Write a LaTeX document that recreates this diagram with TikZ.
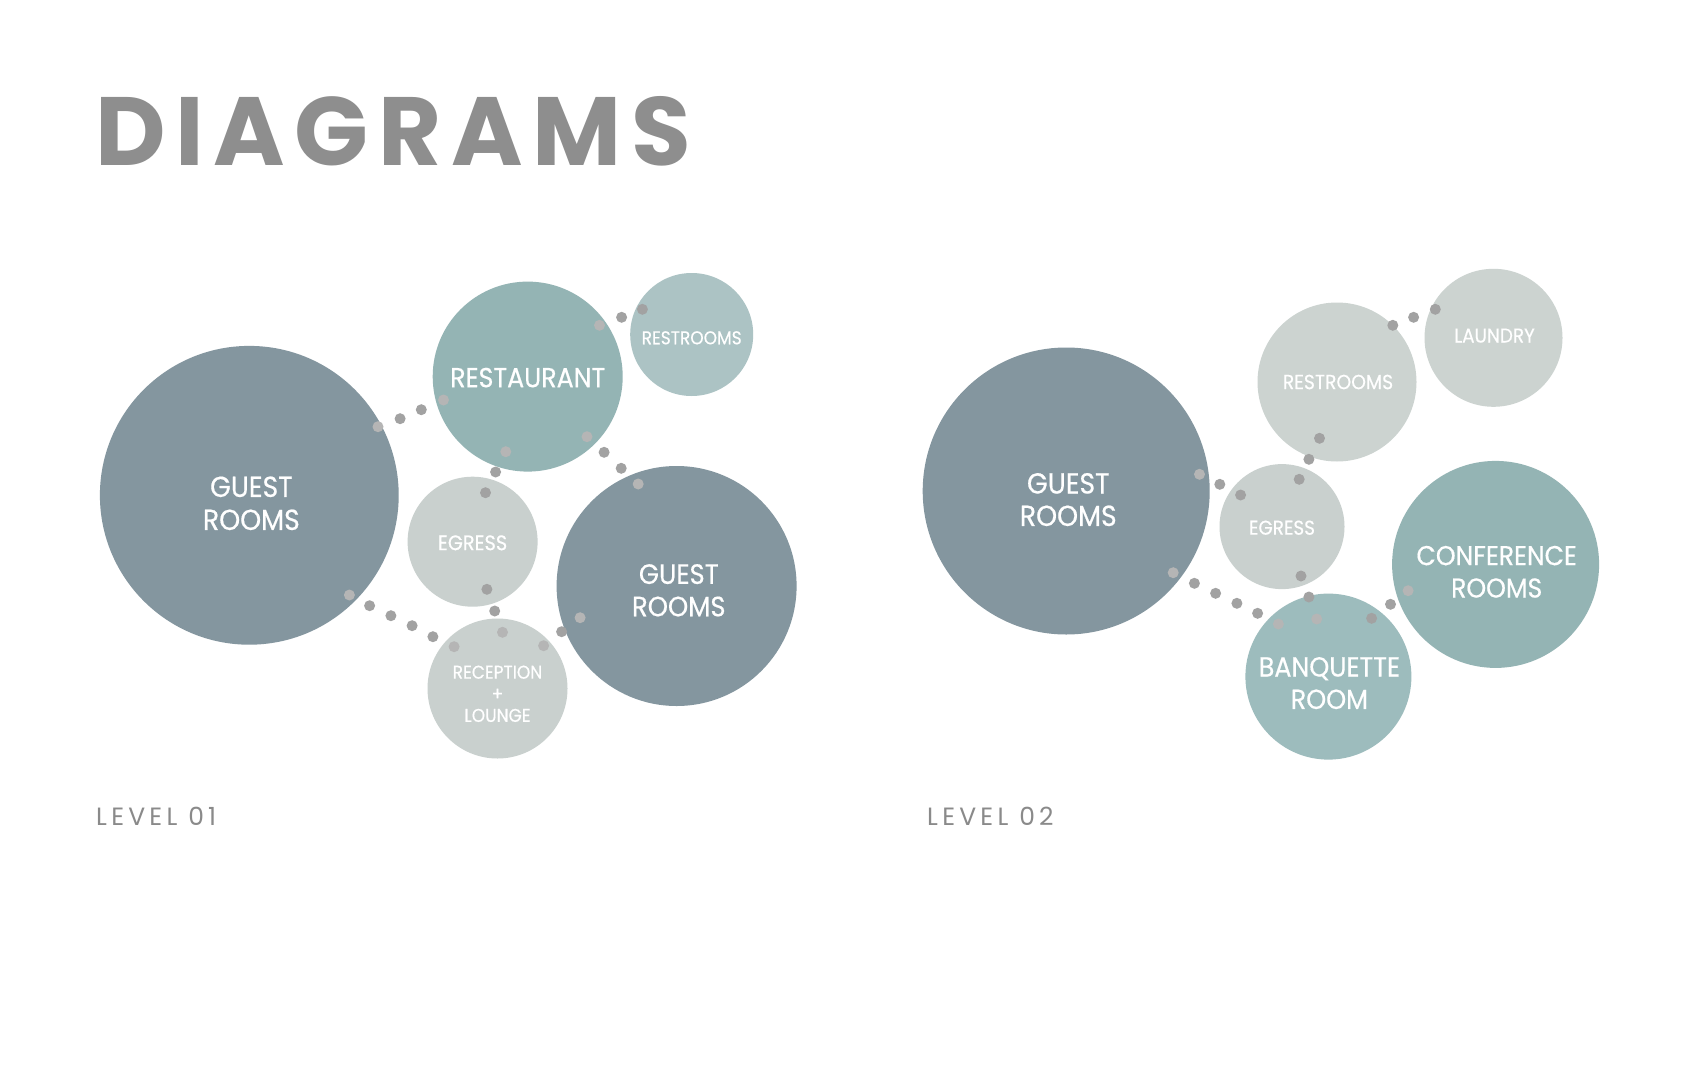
\documentclass[tikz,border=0pt]{standalone}
\usepackage{fontspec}
\setmainfont{Poppins}
\newfontfamily\labfont[FakeStretch=0.92,FakeBold=0.5]{Poppins}
\newfontfamily\titlefont[LetterSpace=10]{Poppins}
\newfontfamily\levelfont[LetterSpace=17]{Poppins}
\definecolor{slate}{HTML}{84969F}
\definecolor{cteal}{HTML}{94B4B4}
\definecolor{rrone}{HTML}{ACC3C4}
\definecolor{pale}{HTML}{C9D0CE}
\definecolor{palegreen}{HTML}{CCD3D0}
\definecolor{banqc}{HTML}{9DBCBD}
\definecolor{dotc}{HTML}{A2A2A2}
\definecolor{dotlc}{HTML}{B5B5B5}
\definecolor{titlec}{HTML}{8E8E8E}
\definecolor{levelc}{HTML}{8A8A8A}
\tikzset{
  room/.style={circle, inner sep=0pt, minimum size=#1},
  lab/.style={text=white, align=center, inner sep=0pt, font=\labfont},
  dotn/.style={circle, inner sep=0pt, minimum size=11pt, fill=dotc},
  dotl/.style={circle, inner sep=0pt, minimum size=11pt, fill=dotlc},
}
\begin{document}
\begin{tikzpicture}[x=1pt,y=-1pt]
\fill[white] (0,0) rectangle (1692,1092);
\useasboundingbox (0,0) rectangle (1692,1092);

% title
\node[anchor=base west, inner sep=0pt, text=titlec, font=\titlefont\bfseries\fontsize{97}{100}\selectfont] (title) at (95,165) {DIAGRAMS};

% ---------- LEVEL 01 ----------
\node[room=298.8pt, fill=slate] (gr1) at (249.3,495.3) {};
\node[room=190pt, fill=cteal] (rest) at (527.7,376.6) {};
\node[room=123pt, fill=rrone] (rr1) at (691.7,334.5) {};
\node[room=130pt, fill=pale] (eg1) at (472.6,541.7) {};
\node[room=240pt, fill=slate] (gr2) at (676.6,586) {};
\node[room=140pt, fill=pale] (rec) at (497.5,688.5) {};

\node[lab, font=\labfont\fontsize{29}{33}\selectfont] (t-gr1) at (251.4,503.3) {GUEST\\ROOMS};
\node[lab, font=\labfont\fontsize{27.5}{30}\selectfont] (t-rest) at (527.7,377.6) {RESTAURANT};
\node[lab, font=\labfont\fontsize{18.5}{22}\selectfont] (t-rr1) at (691.7,337.8) {RESTROOMS};
\node[lab, font=\labfont\fontsize{21}{24}\selectfont] (t-eg1) at (472.6,542.8) {EGRESS};
\node[lab, font=\labfont\fontsize{28}{32.4}\selectfont] (t-gr2) at (678.8,590.3) {GUEST\\ROOMS};
\node[lab, font=\labfont\fontsize{18.5}{21.6}\selectfont] (t-rec) at (497.5,693.8) {RECEPTION\\+\\LOUNGE};

% dots level 01
\node[dotl] (a1) at (378,426.7) {};
\node[dotn] (a2) at (400.1,418.7) {};
\node[dotn] (a3) at (421.3,409.7) {};
\node[dotl] (a4) at (443.5,400) {};

\node[dotl] (b1) at (599.5,325.3) {};
\node[dotn] (b2) at (621.6,317.3) {};
\node[dotn] (b3) at (642.4,309.3) {};

\node[dotl] (c1) at (505.8,451.7) {};
\node[dotn] (c2) at (495.6,472) {};
\node[dotn] (c3) at (485.5,492.7) {};

\node[dotl] (e1) at (587,436.7) {};
\node[dotn] (e2) at (604.1,452.3) {};
\node[dotn] (e3) at (621.2,468.3) {};
\node[dotl] (e4) at (638.2,484) {};

\node[dotn] (f1) at (486.9,589.3) {};
\node[dotn] (f2) at (494.7,611) {};
\node[dotl] (f3) at (502.5,632.3) {};

\node[dotl] (g1) at (349.4,595) {};
\node[dotn] (g2) at (369.6,605.7) {};
\node[dotn] (g3) at (390.9,615.7) {};
\node[dotn] (g4) at (412.1,625.7) {};
\node[dotn] (g5) at (432.9,636.7) {};
\node[dotl] (g6) at (454.1,646.7) {};

\node[dotl] (h1) at (543.6,645.7) {};
\node[dotn] (h2) at (561.6,631.7) {};
\node[dotl] (h3) at (580.1,617.7) {};

\node[anchor=base west, inner sep=0pt, text=levelc, font=\levelfont\fontsize{25}{28}\selectfont] (lv1) at (96,825) {LEVEL 01};

% ---------- LEVEL 02 ----------
\node[room=287pt, fill=slate] (gr3) at (1066.2,491) {};
\node[room=159pt, fill=palegreen] (rr2) at (1337,382) {};
\node[room=138pt, fill=palegreen] (lau) at (1493.5,337.8) {};
\node[room=125pt, fill=pale] (eg2) at (1282,526.6) {};
\node[room=207pt, fill=cteal] (conf) at (1495.6,564.4) {};
\node[room=166pt, fill=banqc] (banq) at (1328.4,676.6) {};

\node[lab, font=\labfont\fontsize{29}{32.4}\selectfont] (t-gr3) at (1068.3,499.6) {GUEST\\ROOMS};
\node[lab, font=\labfont\fontsize{20.4}{24}\selectfont] (t-rr2) at (1338,382) {RESTROOMS};
\node[lab, font=\labfont\fontsize{20}{24}\selectfont] (t-lau) at (1494.5,335.6) {LAUNDRY};
\node[lab, font=\labfont\fontsize{20}{24}\selectfont] (t-eg2) at (1282,527.7) {EGRESS};
\node[lab, font=\labfont\fontsize{27.3}{32.4}\selectfont] (t-conf) at (1496.7,571.8) {CONFERENCE\\ROOMS};
\node[lab, font=\labfont\fontsize{27.6}{32.4}\selectfont] (t-banq) at (1329.4,683.1) {BANQUETTE\\ROOM};

% dots level 02
\node[dotl] (p1) at (1199.5,474.3) {};
\node[dotn] (p2) at (1219.8,484.3) {};
\node[dotn] (p3) at (1240.6,495) {};

\node[dotn] (q1) at (1319.5,438.3) {};
\node[dotn] (q2) at (1308.9,459.3) {};
\node[dotn] (q3) at (1299.2,479.3) {};

\node[dotn] (r1) at (1392.8,325.3) {};
\node[dotn] (r2) at (1413.6,317.3) {};
\node[dotn] (r3) at (1435.3,309.3) {};

\node[dotn] (s1) at (1301,576) {};
\node[dotn] (s2) at (1308.9,597) {};
\node[dotl] (s3) at (1316.7,619) {};

\node[dotl] (u1) at (1173.2,572.7) {};
\node[dotn] (u2) at (1194.4,583.3) {};
\node[dotn] (u3) at (1215.6,593.3) {};
\node[dotn] (u4) at (1236.9,603.3) {};
\node[dotn] (u5) at (1257.6,613.3) {};
\node[dotl] (u6) at (1278.4,624) {};

\node[dotn] (v1) at (1371.6,618.3) {};
\node[dotn] (v2) at (1390.5,604.3) {};
\node[dotl] (v3) at (1408.1,590.7) {};

\node[anchor=base west, inner sep=0pt, text=levelc, font=\levelfont\fontsize{25}{28}\selectfont] (lv2) at (927,825) {LEVEL 02};
\end{tikzpicture}
\end{document}
